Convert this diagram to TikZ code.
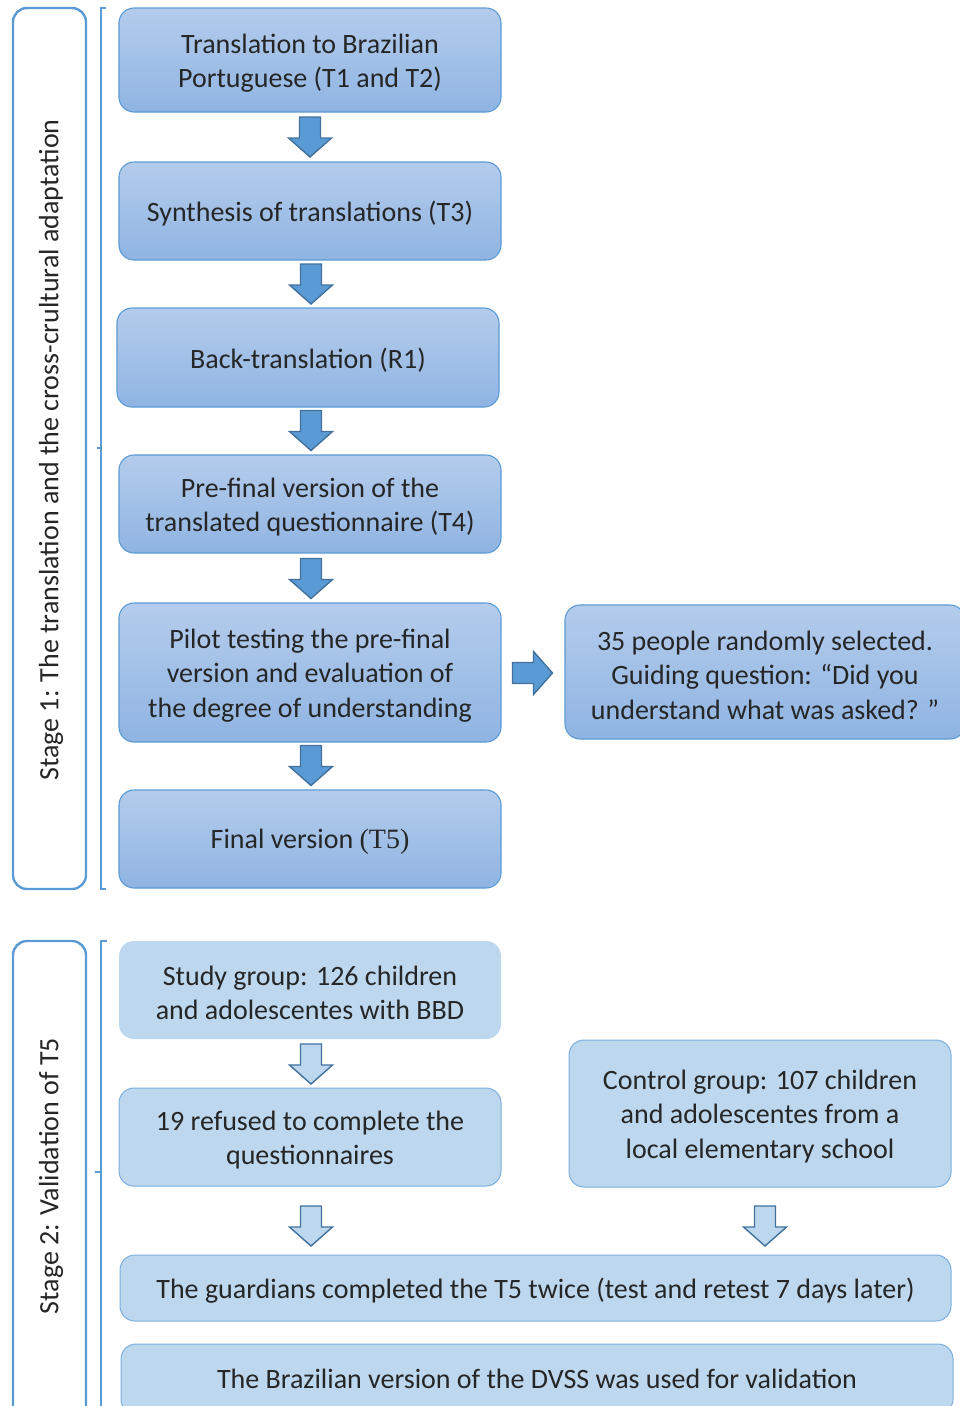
\documentclass[tikz,border=0pt]{standalone}
\usepackage{fontspec}
\setmainfont{Carlito}
\newfontfamily\serifT{Liberation Serif}
\usetikzlibrary{calc}
\definecolor{bordblue}{HTML}{5B9BD5}
\definecolor{topblue}{HTML}{B4CCEC}
\definecolor{botblue}{HTML}{8FB4E2}
\definecolor{flatblue}{HTML}{BDD7EE}
\definecolor{arrfill}{HTML}{5B9BD5}
\definecolor{arrline}{HTML}{41719C}
\definecolor{txt}{HTML}{262626}
\tikzset{
  boxtext/.style={text=txt, align=center, font=\fontsize{28}{34.5}\selectfont, inner sep=0pt, yshift=-3pt},
  gradbox/.style={draw=bordblue, line width=1.1pt, rounded corners=15pt,
    top color=topblue, bottom color=botblue, inner sep=0pt},
  flatbox/.style={draw=bordblue!80, line width=1pt, rounded corners=15pt,
    fill=flatblue, inner sep=0pt},
  stagebox/.style={draw=bordblue, line width=2.4pt, rounded corners=14pt},
  bracketline/.style={draw=bordblue, line width=1.3pt},
  solidarrow/.style={draw=arrline, line width=1.4pt, fill=arrfill, line join=miter},
  openarrow/.style={draw=arrline, line width=1.4pt, fill=flatblue, line join=miter},
  darrow/.pic={\path[pic actions] (-10.5,-20) -- (10.5,-20) -- (10.5,1) -- (21.5,1) -- (0,20) -- (-21.5,1) -- (-10.5,1) -- cycle;},
  rarrow/.pic={\path[pic actions] (-20,-10.5) -- (-20,10.5) -- (1,10.5) -- (1,21.5) -- (20,0) -- (1,-21.5) -- (1,-10.5) -- cycle;},
}
\begin{document}
\begin{tikzpicture}[x=1pt,y=-1pt]
\useasboundingbox (0,0) rectangle (960,1406);
\clip (0,0) rectangle (960,1406);

% Stage frames
\draw[stagebox] (13,8) rectangle (86,889);
\node[rotate=90, text=txt, font=\fontsize{28}{30}\selectfont] (s1) at (51,450) {Stage 1: The translation and the cross-crultural adaptation};
\draw[bracketline] (106,8) -- (101,8) -- (101,889) -- (106,889);
\draw[bracketline] (97,448) -- (101,448);

\draw[stagebox] (13,941) rectangle (86,1430);
\node[rotate=90, text=txt, font=\fontsize{28}{30}\selectfont] (s2) at (51,1176) {Stage 2: Validation of T5};
\draw[bracketline] (107,941) -- (101,941) -- (101,1420);
\draw[bracketline] (95,1172) -- (101,1172);

% Stage 1 boxes
\node[gradbox, minimum width=382pt, minimum height=104pt, label={[boxtext]center:Translation to Brazilian\\Portuguese (T1 and T2)}] (b1) at (310,60) {};
\node[gradbox, minimum width=382pt, minimum height=98pt, label={[boxtext]center:Synthesis of translations (T3)}] (b2) at (310,211) {};
\node[gradbox, minimum width=382pt, minimum height=99pt, label={[boxtext]center:Back-translation (R1)}] (b3) at (308,357.5) {};
\node[gradbox, minimum width=382pt, minimum height=98pt, label={[boxtext]center:Pre-final version of the\\translated questionnaire (T4)}] (b4) at (310,504) {};
\node[gradbox, minimum width=382pt, minimum height=139pt, label={[boxtext]center:Pilot testing the pre-final\\version and evaluation of\\the degree of understanding}] (b5) at (310,672.5) {};
\node[gradbox, minimum width=400pt, minimum height=134pt, label={[boxtext]center:35 people randomly selected.\\Guiding question: ``Did you\\understand what was asked? ''}] (b6) at (765,672) {};
\node[gradbox, minimum width=382pt, minimum height=98pt, label={[boxtext]center:Final version {\serifT(T5)}}] (b7) at (310,839) {};

\pic[solidarrow] at ($(b1.south)!0.5!(b2.north)$) {darrow};
\pic[solidarrow] at (311,284) {darrow};
\pic[solidarrow] at (311,430.5) {darrow};
\pic[solidarrow] at (311,578.5) {darrow};
\pic[solidarrow] at (311,765.5) {darrow};
\pic[solidarrow] at (532.5,673) {rarrow};

% Stage 2 boxes
\node[flatbox, draw=none, minimum width=382pt, minimum height=98pt, label={[boxtext]center:Study group: 126 children\\and adolescentes with BBD}] (c1) at (310,990) {};
\node[flatbox, minimum width=382pt, minimum height=98pt, label={[boxtext]center:19 refused to complete the\\questionnaires}] (c2) at (310,1137) {};
\node[flatbox, minimum width=382pt, minimum height=147pt, label={[boxtext]center:Control group: 107 children\\and adolescentes from a\\local elementary school}] (c3) at (760,1113.5) {};
\node[flatbox, minimum width=831pt, minimum height=66pt, label={[boxtext]center:The guardians completed the T5 twice (test and retest 7 days later)}] (c4) at (535.5,1288) {};
\node[flatbox, minimum width=832pt, minimum height=70pt, label={[boxtext, yshift=3pt]center:The Brazilian version of the DVSS was used for validation}] (c5) at (537,1379) {};

\pic[openarrow] at (311,1064) {darrow};
\pic[openarrow] at (311,1226) {darrow};
\pic[openarrow] at (765,1226) {darrow};
\end{tikzpicture}
\end{document}
